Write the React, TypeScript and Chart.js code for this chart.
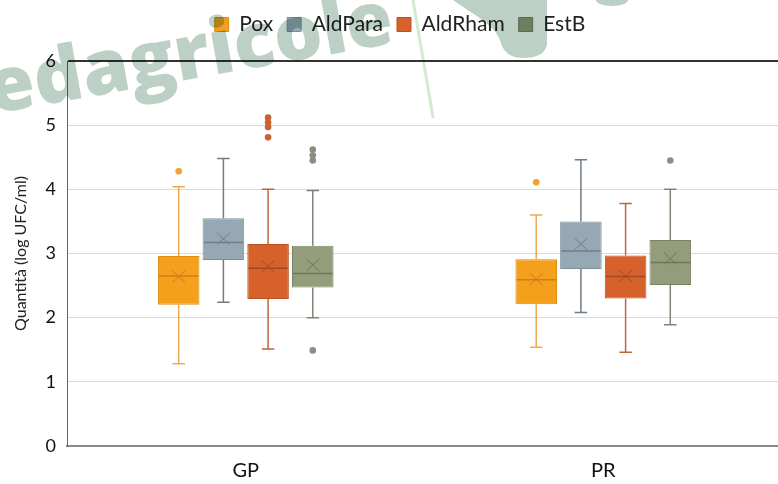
import React, { useEffect, useRef } from "react";
import { Chart, registerables } from "chart.js";

Chart.register(...registerables);

// ---- data ----
const categories = ["GP", "PR"];
const seriesNames = ["Pox", "AldPara", "AldRham", "EstB"];
// [series][category]
const whiskerLow = [
  [1.28, 1.54],
  [2.24, 2.08],
  [1.51, 1.46],
  [2.0, 1.89],
];
const q1 = [
  [2.2, 2.21],
  [2.9, 2.76],
  [2.29, 2.3],
  [2.47, 2.51],
];
const medians = [
  [2.65, 2.59],
  [3.17, 3.04],
  [2.77, 2.64],
  [2.69, 2.86],
];
const q3 = [
  [2.96, 2.91],
  [3.55, 3.5],
  [3.15, 2.97],
  [3.12, 3.21],
];
const whiskerHigh = [
  [4.04, 3.6],
  [4.48, 4.46],
  [4.0, 3.78],
  [3.98, 4.0],
];
const means = [
  [2.64, 2.6],
  [3.23, 3.15],
  [2.8, 2.65],
  [2.82, 2.92],
];
const outliers = [
  [[4.28], [4.11]],
  [[], []],
  [[5.12, 5.04, 4.97, 4.81], []],
  [[4.62, 4.53, 4.45, 1.49], [4.45]],
];
const yMin = 0;
const yMax = 6;
const yStep = 1;
const yTitle = "Quantità (log UFC/ml)";
const watermark = "edagricole";

// ---- styles ----
const fills = ["#F5A01C", "#95A8B4", "#D7612B", "#939D7C"];
const borders = ["#DE8C14", "#7C909C", "#BB5224", "#7A8463"];
const medianColors = ["#C9801A", "#6C7F8C", "#A44A20", "#6E7858"];
const whiskerColors = ["#EDAA50", "#6F7C86", "#C2653D", "#7F8575"];
const outlierColors = ["#EFA236", "#6F7C86", "#C8622F", "#8A9080"];
const FONT = "Lato, 'Open Sans', sans-serif";

const boxExtras = {
  id: "boxExtras",
  afterDatasetsDraw(chart: any) {
    const c = chart.ctx;
    const y = chart.scales.y;
    seriesNames.forEach((_, s) => {
      const meta = chart.getDatasetMeta(s);
      meta.data.forEach((bar: any, i: number) => {
        const x = bar.x;
        const half = bar.width / 2;
        const cap = bar.width * 0.15;
        const yLo = y.getPixelForValue(whiskerLow[s][i]);
        const yQ1 = y.getPixelForValue(q1[s][i]);
        const yQ3 = y.getPixelForValue(q3[s][i]);
        const yHi = y.getPixelForValue(whiskerHigh[s][i]);
        const yMed = y.getPixelForValue(medians[s][i]);
        const yMean = y.getPixelForValue(means[s][i]);
        c.save();
        c.strokeStyle = whiskerColors[s];
        c.lineWidth = 1.5;
        c.beginPath();
        c.moveTo(x, yQ3);
        c.lineTo(x, yHi);
        c.moveTo(x - cap, yHi);
        c.lineTo(x + cap, yHi);
        c.moveTo(x, yQ1);
        c.lineTo(x, yLo);
        c.moveTo(x - cap, yLo);
        c.lineTo(x + cap, yLo);
        c.stroke();
        c.strokeStyle = medianColors[s];
        c.lineWidth = 1.5;
        c.beginPath();
        c.moveTo(x - half + 1, yMed);
        c.lineTo(x + half - 1, yMed);
        c.stroke();
        c.lineWidth = 1;
        const mx = 6.5;
        const my = 6;
        c.beginPath();
        c.moveTo(x - mx, yMean - my);
        c.lineTo(x + mx, yMean + my);
        c.moveTo(x + mx, yMean - my);
        c.lineTo(x - mx, yMean + my);
        c.stroke();
        c.fillStyle = outlierColors[s];
        outliers[s][i].forEach((v) => {
          c.beginPath();
          c.arc(x, y.getPixelForValue(v), 3.3, 0, Math.PI * 2);
          c.fill();
        });
        c.restore();
      });
    });
  },
};

const legendFix = {
  id: "legendFix",
  beforeUpdate(chart: any) {
    const lg = chart.legend;
    if (lg && !lg._patched) {
      const orig = lg.fit;
      lg.fit = function () {
        orig.call(this);
        this.height = 61;
      };
      lg._patched = true;
    }
  },
  afterLayout(chart: any) {
    const lg = chart.legend;
    if (lg) {
      lg.left += 9;
      lg.right += 9;
    }
  },
};

export default function App() {
  const ref = useRef<HTMLCanvasElement>(null);
  useEffect(() => {
    document.body.style.margin = "0";
    const canvas = ref.current!;
    const chart = new Chart(canvas, {
      type: "bar",
      data: {
        labels: categories,
        datasets: seriesNames.map((name, s) => ({
          label: name,
          data: categories.map((_, c) => [q1[s][c], q3[s][c]]),
          backgroundColor: fills[s],
          borderColor: borders[s],
          borderWidth: 1,
          borderSkipped: false,
          categoryPercentage: 0.5,
          barPercentage: 0.93,
        })) as any,
      },
      options: {
        animation: false,
        responsive: false,
        maintainAspectRatio: false,
        layout: { padding: { left: 0, right: 0, top: 0, bottom: 0 } },
        plugins: {
          tooltip: { enabled: false },
          legend: {
            position: "top",
            labels: {
              boxWidth: 14,
              boxHeight: 14,
              padding: 14,
              color: "#222",
              font: { family: FONT, size: 21 },
            },
          },
        },
        scales: {
          x: {
            grid: { display: false, drawTicks: false },
            border: { display: true, color: "#8a8a8a", width: 2 },
            ticks: { color: "#111", font: { family: FONT, size: 20 }, padding: 13 },
            afterFit(scale: any) {
              scale.height = 38;
            },
          },
          y: {
            min: yMin,
            max: yMax,
            ticks: {
              stepSize: yStep,
              color: "#111",
              font: { family: FONT, size: 18 },
              padding: 11,
            },
            grid: {
              drawTicks: false,
              color: (ctx: any) =>
                ctx.tick && ctx.tick.value === yMax
                  ? "#333"
                  : ctx.tick && ctx.tick.value === yMin
                  ? "#8a8a8a"
                  : "#dadada",
              lineWidth: (ctx: any) =>
                ctx.tick && (ctx.tick.value === yMax || ctx.tick.value === yMin) ? 2 : 1,
            },
            border: { display: true, color: "#666", width: 1 },
            title: {
              display: true,
              text: yTitle,
              color: "#222",
              font: { family: FONT, size: 16 },
              padding: { top: 11, bottom: 0 },
            },
            afterFit(scale: any) {
              scale.width = 67;
            },
          },
        },
      },
      plugins: [boxExtras, legendFix],
    });
    return () => chart.destroy();
  }, []);

  return (
    <div style={{ position: "relative", width: 778, height: 484, overflow: "hidden", background: "#fff" }}>
      <canvas ref={ref} width={782} height={484} style={{ display: "block", width: 782, height: 484 }} />
      <svg
        width={778}
        height={484}
        style={{ position: "absolute", left: 0, top: 0, pointerEvents: "none", mixBlendMode: "multiply" }}
      >
        <line x1={413} y1={0} x2={433} y2={117} stroke="#D6EAD0" strokeWidth={3} strokeLinecap="round" />
        <path
          d="M 453 0 C 472 14, 494 24, 500 40 Q 504 58, 523 58 Q 545 58, 547 44 L 547 0 Z"
          fill="#BCD0C5"
        />
        <ellipse cx={612} cy={0} rx={16} ry={6} fill="#BCD0C5" />
        <text
          x={-8}
          y={114}
          transform="rotate(-10 -8 114)"
          fontSize={76}
          fontWeight={800}
          fontFamily="'Open Sans', sans-serif"
          fill="#BCD0C5"
        >
          {watermark}
        </text>
      </svg>
    </div>
  );
}
